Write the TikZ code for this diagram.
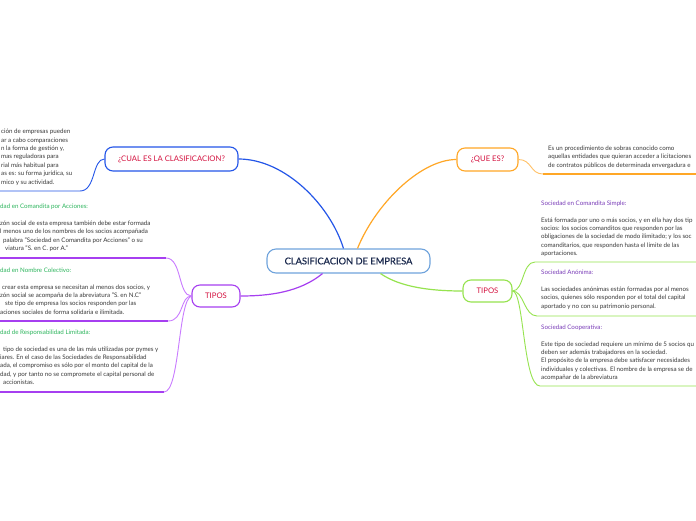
\documentclass[tikz,border=0pt]{standalone}
\usepackage{fontspec}
\setmainfont{Lato}
\newfontface\centralface{Lato}[FakeBold=0.6]
\definecolor{txtgray}{HTML}{3A3A3A}
\definecolor{navy}{HTML}{1B2A4E}
\definecolor{cblue}{HTML}{6FA3DC}
\definecolor{mblue}{HTML}{2456E8}
\definecolor{morange}{HTML}{FFA726}
\definecolor{mpurple}{HTML}{A63FF0}
\definecolor{mlpurple}{HTML}{C97BFF}
\definecolor{mgreen}{HTML}{96E34F}
\definecolor{tred}{HTML}{D4113F}
\definecolor{tgreen}{HTML}{2DB55D}
\definecolor{tpurple}{HTML}{7A3DB8}
\tikzset{
  topic/.style={draw, rounded corners=8pt, line width=1.1pt, fill=white, inner sep=0pt, text=tred, font=\fontsize{7.7}{8}\selectfont},
  txtblock/.style={anchor=north west, align=left, inner sep=0pt, text=txtgray, font=\fontsize{6.2}{8.4}\selectfont},
  conn/.style={line width=1.2pt},
  fan/.style={line width=0.9pt}
}
\begin{document}
\begin{tikzpicture}[x=1pt,y=-1pt]
\useasboundingbox (0,0) rectangle (696,520);
\clip (0,0) rectangle (696,520);
\fill[white] (0,0) rectangle (696,520);

% central
\node[draw=cblue, rounded corners=9pt, line width=1.1pt, fill=white, text=navy, minimum width=163pt, minimum height=24pt, inner sep=0pt, font=\centralface\fontsize{9.3}{10}\selectfont] (c) at (348.5,261) {CLASIFICACION DE EMPRESA};

% topics
\node[topic, draw=mblue, minimum width=133pt, minimum height=24pt] (cual) at (171.5,159) {¿CUAL ES LA CLASIFICACION?};
\node[topic, draw=morange, minimum width=61pt, minimum height=23pt] (que) at (487.5,159.5) {¿QUE ES?};
\node[topic, draw=mpurple, minimum width=48pt, minimum height=22pt] (tl) at (216,296) {TIPOS};
\node[topic, draw=mgreen, minimum width=49pt, minimum height=22pt] (tr) at (487.5,291) {TIPOS};

% main connectors
\draw[conn, mblue] ([xshift=-5pt]c.north) .. controls (330,205) and (285,159) .. (cual.east);
\draw[conn, morange] ([xshift=9pt]c.north) .. controls (375,205) and (420,159.5) .. (que.west);
\draw[conn, mpurple] ([xshift=-26pt]c.south) .. controls (300,292) and (270,296) .. (tl.east);
\draw[conn, mgreen] ([xshift=32pt]c.south) .. controls (400,287) and (430,291) .. (tr.west);

% endpoints for underlines
\coordinate (ul0) at (0,191);
\coordinate (ul1) at (0,258);
\coordinate (ul2) at (0,321);
\coordinate (ul3) at (0,392);
\coordinate (ur0) at (696,174);
\coordinate (ur1) at (696,262);
\coordinate (ur2) at (696,316);
\coordinate (ur3) at (696,386);

% left side
\draw[fan, mblue] (cual.west) .. controls (92,159) and (96,191) .. (80,191) -- (ul0);
\draw[fan, mlpurple] (tl.west) .. controls (178,296) and (182,258) .. (166,258);
\draw[conn, mpurple] (166,258) -- (ul1);
\draw[fan, mlpurple] (tl.west) .. controls (180,296) and (184,321) .. (168,321);
\draw[conn, mpurple] (168,321) -- (ul2);
\draw[fan, mlpurple] (tl.west) .. controls (178,300) and (180,392) .. (164,392);
\draw[conn, mpurple] (164,392) -- (ul3);

% right side
\draw[fan, morange!70] (que.east) .. controls (532,159.5) and (530,174) .. (543,174);
\draw[conn, morange] (543,174) -- (ur0);
\draw[fan, mgreen] (tr.east) .. controls (524,291) and (522,262) .. (535,262) -- (ur1);
\draw[fan, mgreen] (tr.east) .. controls (524,291) and (524,316) .. (537,316) -- (ur2);
\draw[fan, mgreen] (tr.east) .. controls (524,291) and (523,386) .. (540,386) -- (ur3);

% left text blocks
\node[txtblock] (b0) at (1,129) {ción de empresas pueden\\ar a cabo comparaciones\\n la forma de gestión y,\\mas reguladoras para\\rial más habitual para\\as es: su forma jurídica, su\\mico y su actividad.};

\node[txtblock] (b1) at (0,204) {{\color{tgreen}dad en Comandita por Acciones:}\\[8.4pt]zón social de esta empresa también debe estar formada\\l menos uno de los nombres de los socios acompañada\\\hspace*{3pt}palabra "Sociedad en Comandita por Acciones" o su\\\hspace*{5pt}viatura "S. en C. por A."};

\node[txtblock] (b2) at (0,267.5) {{\color{tgreen}dad en Nombre Colectivo:}\\[8.4pt]\hspace*{2pt}crear esta empresa se necesitan al menos dos socios, y\\zón social se acompaña de la abreviatura "S. en N.C"\\\hspace*{5pt}ste tipo de empresa los socios responden por las\\aciones sociales de forma solidaria e ilimitada.};

\node[txtblock] (b3) at (0,329.5) {{\color{tgreen}dad de Responsabilidad Limitada:}\\[8.4pt]\hspace*{3pt}tipo de sociedad es una de las más utilizadas por pymes y\\iares. En el caso de las Sociedades de Responsabilidad\\ada, el compromiso es sólo por el monto del capital de la\\dad, y por tanto no se compromete el capital personal de\\\hspace*{3pt}accionistas.};

% right text blocks
\node[txtblock] (r0) at (548,145.5) {Es un procedimiento de sobras conocido como\\aquellas entidades que quieran acceder a licitaciones\\de contratos públicos de determinada envergadura e};

\node[txtblock] (r1) at (541,200.5) {{\color{tpurple}Sociedad en Comandita Simple:}\\[8.4pt]Está formada por uno o más socios, y en ella hay dos tip\\socios: los socios comanditos que responden por las\\obligaciones de la sociedad de modo ilimitado; y los soc\\comanditarios, que responden hasta el límite de las\\aportaciones.};

\node[txtblock] (r2) at (541,270) {{\color{tpurple}Sociedad Anónima:}\\[8.4pt]Las sociedades anónimas están formadas por al menos\\socios, quienes sólo responden por el total del capital\\aportado y no con su patrimonio personal.};

\node[txtblock] (r3) at (541,324.5) {{\color{tpurple}Sociedad Cooperativa:}\\[8.4pt]Este tipo de sociedad requiere un mínimo de 5 socios qu\\deben ser además trabajadores en la sociedad.\\El propósito de la empresa debe satisfacer necesidades\\individuales y colectivas. El nombre de la empresa se de\\acompañar de la abreviatura};
\end{tikzpicture}
\end{document}
